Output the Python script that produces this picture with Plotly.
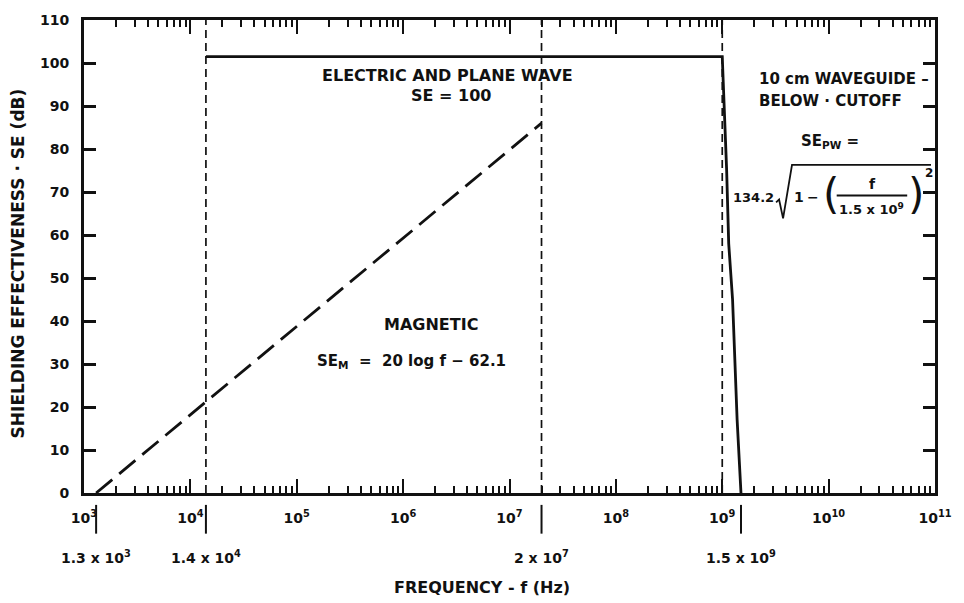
import math
import plotly.graph_objects as go

# ---- data -------------------------------------------------------------
# Electric / plane-wave plateau and the waveguide-below-cutoff roll-off
plane_f = [1.4e4, 1.0e9, 1.1e9, 1.15e9, 1.25e9, 1.38e9, 1.5e9]
plane_se = [101.5, 101.5, 75.0, 58.0, 45.0, 17.0, 0.0]

# Magnetic shielding line
mag_f = [1.3e3, 2.0e7]
mag_se = [0.0, 86.0]

# Frequencies marked with dashed guide lines
guide_f = [1.4e4, 2.0e7, 1.0e9]

# Frequencies labelled under the axis
marker_f = [1.3e3, 1.4e4, 2.0e7, 1.5e9]
marker_text = ["1.3 x 10<sup>3</sup>", "1.4 x 10<sup>4</sup>",
               "2 x 10<sup>7</sup>", "1.5 x 10<sup>9</sup>"]

decades = list(range(3, 12))
x_tickvals = [10.0 ** d for d in decades]
x_ticktext = ["10<sup>%d</sup>" % d for d in decades]
y_tickvals = list(range(0, 111, 10))

# ---- geometry of the plotting area (pixels) ---------------------------
W, H = 964, 603
ML, MR, MT, MB = 84, 23, 16, 110
PW, PH = W - ML - MR, H - MT - MB
XMIN, XMAX = 3, 11


def px_x(px):
    return (px - ML) / PW


def px_y(py):
    return (H - MB - py) / PH


def paper_from_freq(f):
    return (math.log10(f) - XMIN) / (XMAX - XMIN)


FONT = "DejaVu Sans"
INK = "#111111"

fig = go.Figure()

fig.add_trace(go.Scatter(
    x=plane_f, y=plane_se, mode="lines",
    line=dict(color=INK, width=2.8),
    hoverinfo="skip", showlegend=False))

fig.add_trace(go.Scatter(
    x=mag_f, y=mag_se, mode="lines",
    line=dict(color=INK, width=2.8, dash="21px,9px"),
    hoverinfo="skip", showlegend=False))

for f in guide_f:
    fig.add_trace(go.Scatter(
        x=[f, f], y=[0, 110], mode="lines",
        line=dict(color=INK, width=1.7, dash="8px,5px"),
        hoverinfo="skip", showlegend=False))

minor_vals = [m * 10.0 ** d for d in decades[:-1] for m in range(2, 10)]

fig.update_xaxes(
    type="log", range=[XMIN, XMAX],
    tickvals=x_tickvals, ticktext=x_ticktext,
    ticks="inside", ticklen=14, tickwidth=2, tickcolor=INK,
    minor=dict(tickvals=minor_vals, ticks="inside", ticklen=7,
               tickwidth=2, tickcolor=INK, showgrid=False),
    showline=True, linewidth=2.8, linecolor=INK, mirror="ticks",
    showgrid=False, zeroline=False,
    ticklabelstandoff=10,
    tickfont=dict(family=FONT, size=14, color=INK, weight="bold"),
)
fig.update_yaxes(
    range=[0, 110], tickvals=y_tickvals,
    ticks="inside", ticklen=12, tickwidth=2.5, tickcolor=INK,
    showline=True, linewidth=2.8, linecolor=INK, mirror="ticks",
    showgrid=False, zeroline=False,
    ticklabelstandoff=9,
    tickfont=dict(family=FONT, size=14, color=INK, weight="bold"),
)

annotations = []


def label(text, cx, cy, size=16, xanchor="center", weight="bold"):
    annotations.append(dict(
        text=text, x=px_x(cx), y=px_y(cy), xref="paper", yref="paper",
        xanchor=xanchor, yanchor="middle", showarrow=False,
        font=dict(family=FONT, size=size, color=INK, weight=weight)))


# Under-axis frequency labels and their short marks
shapes = []
for f, t in zip(marker_f, marker_text):
    xp = paper_from_freq(f)
    shapes.append(dict(type="line", xref="paper", yref="paper",
                       x0=xp, x1=xp, y0=px_y(505), y1=px_y(534),
                       line=dict(color=INK, width=2)))
    annotations.append(dict(
        text=t, x=xp, y=px_y(558), xref="paper", yref="paper",
        xanchor="center", yanchor="middle", showarrow=False,
        font=dict(family=FONT, size=14, color=INK, weight="bold")))

# Axis titles
label("FREQUENCY - f (Hz)", 485, 588, size=16)
annotations.append(dict(
    text="SHIELDING EFFECTIVENESS · SE (dB)", x=px_x(17), y=px_y(261),
    xref="paper", yref="paper", textangle=-90, showarrow=False,
    xanchor="center", yanchor="middle",
    font=dict(family=FONT, size=17, color=INK, weight="bold")))

# Curve labels
label("ELECTRIC AND PLANE WAVE", 450, 72, size=16)
label("SE = 100", 454, 92, size=16)
label("MAGNETIC", 433, 323, size=16)
label("SE<sub>M</sub>  =  20 log f − 62.1", 414, 360, size=15)

label("10 cm WAVEGUIDE –", 762, 76, size=15, xanchor="left")
label("BELOW · CUTOFF", 762, 98, size=15, xanchor="left")
label("SE<sub>PW</sub> =", 835, 139, size=15)

# Waveguide formula: 134.2 sqrt(1 - (f / 1.5e9)^2)
label("134.2", 781, 195, size=13, xanchor="right")
sqrt_pts = [(781, 200), (784, 197), (788, 216), (797, 162), (937, 162)]
path = "M " + " L ".join("%.5f,%.5f" % (px_x(a), px_y(b)) for a, b in sqrt_pts)
shapes.append(dict(type="path", xref="paper", yref="paper", path=path,
                   line=dict(color=INK, width=1.8)))
label("1", 804, 195, size=14)
label("−", 818, 195, size=14)
label("(", 836, 192, size=42, weight="normal")
label("f", 878, 181, size=14)
shapes.append(dict(type="line", xref="paper", yref="paper",
                   x0=px_x(842), x1=px_x(913), y0=px_y(193), y1=px_y(193),
                   line=dict(color=INK, width=1.8)))
label("1.5 x 10<sup>9</sup>", 877, 207, size=13)
label(")", 922, 192, size=42, weight="normal")
label("2", 935, 170, size=12)

fig.update_layout(
    width=W, height=H,
    margin=dict(l=ML, r=MR, t=MT, b=MB),
    paper_bgcolor="white", plot_bgcolor="white",
    annotations=annotations, shapes=shapes,
    font=dict(family=FONT, color=INK),
)

fig.write_html("out.html")
